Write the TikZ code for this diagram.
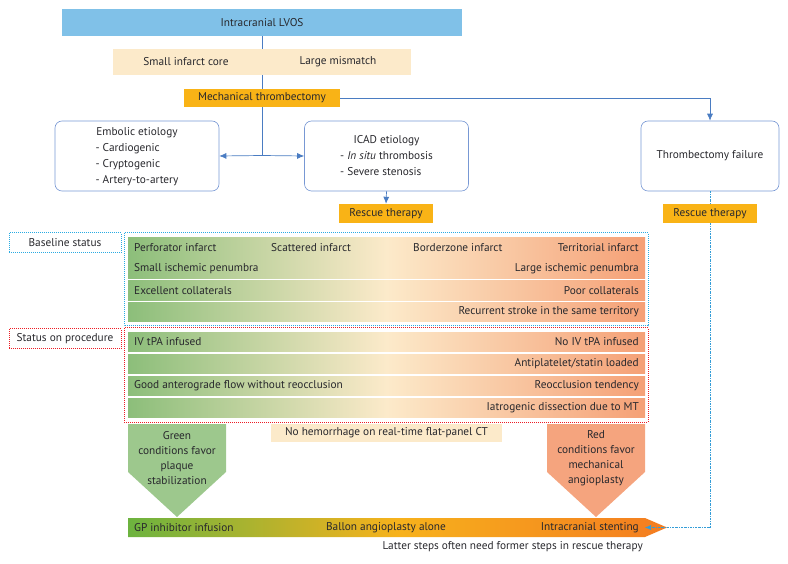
\documentclass[tikz,border=0pt]{standalone}
\usepackage{fontspec}
\setmainfont{PT Sans}
\usetikzlibrary{positioning,arrows.meta}

\definecolor{bleuhaut}{RGB}{128,193,232}
\definecolor{creme}{RGB}{252,234,202}
\definecolor{jaunebox}{RGB}{249,179,22}
\definecolor{cadre}{RGB}{120,152,212}
\definecolor{liaison}{RGB}{74,124,194}
\definecolor{texte}{RGB}{40,40,45}
\definecolor{lignevert}{RGB}{140,190,122}
\definecolor{lignesaumon}{RGB}{245,160,118}
\definecolor{pointbleu}{RGB}{41,171,226}
\definecolor{pointrouge}{RGB}{237,28,36}
\definecolor{vertpl}{RGB}{157,200,141}
\definecolor{rougepl}{RGB}{245,164,126}
\definecolor{barvert}{RGB}{108,179,63}
\definecolor{barjaune}{RGB}{247,178,28}
\definecolor{barorange}{RGB}{244,124,32}

\tikzset{
  every node/.style={text=texte, font=\fontsize{11.3}{16}\selectfont},
  boite/.style={draw=cadre, line width=0.6pt, rounded corners=7pt, inner sep=0pt,
    minimum width=164pt, minimum height=70pt},
  plat/.style={inner sep=0pt, minimum height=19pt},
  etiq/.style={inner sep=0pt, minimum width=112pt, minimum height=20pt,
    line width=1pt, densely dotted},
  fleche/.style={liaison, line width=0.7pt, -{Latex[length=7pt,width=6pt]}},
  trait/.style={liaison, line width=0.7pt}
}

\begin{document}
\begin{tikzpicture}[x=1pt, y=-1pt]
  \useasboundingbox (0,0) rectangle (788,564);

  % Boites du haut
  \node[plat, fill=bleuhaut, minimum width=400pt, minimum height=27pt] (lvos) at (262,22.5) {Intracranial LVOS};
  \node[plat, fill=creme, minimum width=298pt, minimum height=26pt] (crit) at (262,62) {};
  \node (core) at (186,62) {Small infarct core};
  \node (mism) at (338,62) {Large mismatch};
  \node[plat, fill=jaunebox, minimum width=156pt, minimum height=18pt] (mt) at (262,98) {Mechanical thrombectomy};

  % Etiologies
  \node[boite] (emb) at (137,156) {\begin{tabular}{@{}l@{}}\multicolumn{1}{@{}c@{}}{Embolic etiology}\\- Cardiogenic\\- Cryptogenic\\- Artery-to-artery\end{tabular}};
  \node[boite] (icad) at (386.5,156) {\begin{tabular}{@{}l@{}}\multicolumn{1}{@{}c@{}}{ICAD etiology}\\- \textit{In situ} thrombosis\\- Severe stenosis\end{tabular}};
  \node[boite, minimum width=138pt] (fail) at (710,156) {Thrombectomy failure};
  \node[plat, fill=jaunebox, minimum width=94pt] (resc1) at (386,213.5) {Rescue therapy};

  % Liaisons
  \coordinate (split) at (262,155.5);
  \coordinate (stent) at (645,527.5);
  \draw[trait] (lvos) -- (crit);
  \draw[trait] (crit) -- (mt);
  \draw[trait] (mt) -- (split);
  \draw[fleche] (split) -- (emb.east);
  \draw[fleche] (split) -- (icad.west);
  \draw[fleche] (mt.east) -| (fail.north);
  \draw[fleche] (icad.south) -- (resc1.north);

  % Cadres pointilles
  \node[etiq, draw=pointbleu] (base) at (65,243) {Baseline status};
  \node[etiq, draw=pointrouge] (proc) at (65,339) {Status on procedure};
  \draw[pointbleu, line width=1pt, densely dotted] (124,233) rectangle (648,326);
  \draw[pointrouge, line width=1pt, densely dotted] (124,328) rectangle (648,422);

  % Lignes en degrade
  \foreach \y/\g/\d [count=\i] in {247.5/Perforator infarct/Territorial infarct,
      268.5/Small ischemic penumbra/Large ischemic penumbra,
      290.5/Excellent collaterals/Poor collaterals,
      312/{}/Recurrent stroke in the same territory,
      342/IV tPA infused/No IV tPA infused,
      364/{}/{Antiplatelet/statin loaded},
      386/Good anterograde flow without reocclusion/Reocclusion tendency,
      408/{}/Iatrogenic dissection due to MT} {
    \shade[left color=lignevert, right color=lignesaumon, middle color=creme] (128,\y-9.75) rectangle (645,\y+9.75);
    \node[anchor=west, inner sep=0pt] (g\i) at (134,\y) {\g};
    \node[anchor=east, inner sep=0pt] (d\i) at (639,\y) {\d};
  }
  \node[anchor=west, inner sep=0pt] (scat) at (271,247.5) {Scattered infarct};
  \node[anchor=west, inner sep=0pt] (bord) at (413,247.5) {Borderzone infarct};

  % Fleches vertes et rouges
  \fill[vertpl] (128,424) -- (226,424) -- (226,472) -- (177,517) -- (128,472) -- cycle;
  \node[align=center, inner sep=0pt, font=\fontsize{11.3}{15}\selectfont] (verttxt) at (177,458) {Green\\conditions favor\\plaque\\stabilization};
  \fill[rougepl] (547,424) -- (645,424) -- (645,472) -- (596,517) -- (547,472) -- cycle;
  \node[align=center, inner sep=0pt, font=\fontsize{11.3}{15}\selectfont] (rougetxt) at (596,458) {Red\\conditions favor\\mechanical\\angioplasty};
  \node[plat, fill=creme, minimum width=231pt, minimum height=18pt] (hemo) at (386.5,433) {No hemorrhage on real-time flat-panel CT};

  % Barre des etapes
  \shade[left color=barvert, right color=barorange, middle color=barjaune] (128,518) -- (645,518) -- (667,527.5) -- (645,537) -- (128,537) -- cycle;
  \node[anchor=west, inner sep=0pt] (gp) at (134,527.5) {GP inhibitor infusion};
  \node[inner sep=0pt] (ballon) at (386,527.5) {Ballon angioplasty alone};
  \node[anchor=east, inner sep=0pt] (stenting) at (639,527.5) {Intracranial stenting};
  \node[anchor=east, inner sep=0pt] (latter) at (643,547) {Latter steps often need former steps in rescue therapy};

  % Retour vers la barre
  \draw[pointbleu!70!liaison, line width=0.6pt, dash pattern=on 2pt off 1pt on 0.6pt off 1pt, -{Latex[length=6pt,width=5pt]}] (fail.south) |- (stent);
  \node[plat, fill=jaunebox, minimum width=94pt] (resc2) at (710,213.5) {Rescue therapy};
\end{tikzpicture}
\end{document}
